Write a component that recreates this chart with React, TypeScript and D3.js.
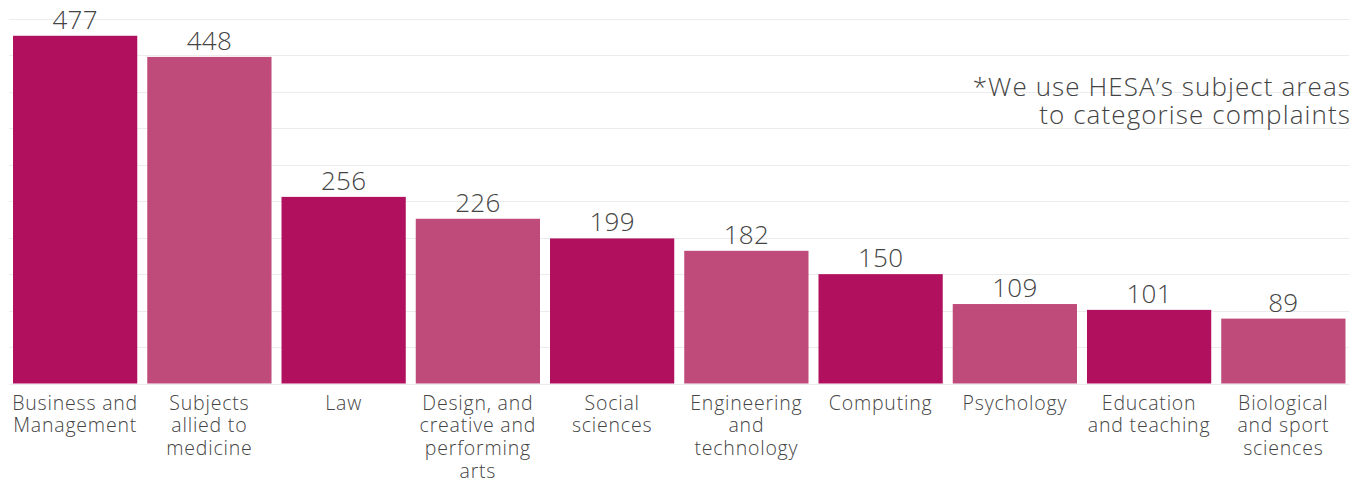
import React from "react";
import * as d3 from "d3";

const categories: string[][] = [
  ["Business and", "Management"],
  ["Subjects", "allied to", "medicine"],
  ["Law"],
  ["Design, and", "creative and", "performing", "arts"],
  ["Social", "sciences"],
  ["Engineering", "and", "technology"],
  ["Computing"],
  ["Psychology"],
  ["Education", "and teaching"],
  ["Biological", "and sport", "sciences"],
];
const values: number[] = [477, 448, 256, 226, 199, 182, 150, 109, 101, 89];
const gridTicks: number[] = [0, 50, 100, 150, 200, 250, 300, 350, 400, 450, 500];
const noteLines: string[] = ["*We use HESA\u2019s subject areas", "to categorise complaints"];

const W = 1368;
const H = 481;
const colors = ["#B0105E", "#BE4B7A"];
const FONT = "'Open Sans', sans-serif";

export default function App() {
  const x = d3
    .scaleBand<number>()
    .domain(d3.range(values.length))
    .range([5.5, 1353])
    .paddingInner(10 / 134.3)
    .paddingOuter(0.056);
  const y = d3.scaleLinear().domain([0, 500]).range([383.5, 19]);

  return (
    <svg
      width={W}
      height={H}
      style={{ position: "absolute", left: 0, top: 0, background: "#fff" }}
    >
      {gridTicks.map((t) => (
        <line
          key={t}
          x1={9}
          x2={1349}
          y1={Math.round(y(t)) + 0.5}
          y2={Math.round(y(t)) + 0.5}
          stroke="#ececec"
          strokeWidth={1}
        />
      ))}
      {values.map((v, i) => (
        <g key={i}>
          <rect
            x={x(i)}
            y={y(v)}
            width={x.bandwidth()}
            height={y(0) - y(v)}
            fill={colors[i % 2]}
          />
          <text
            x={(x(i) as number) + x.bandwidth() / 2}
            y={y(v) - 7}
            textAnchor="middle"
            fontFamily={FONT}
            fontWeight={300}
            fontSize={26}
            letterSpacing={0.3}
            fill="#444"
          >
            {v}
          </text>
          <text
            textAnchor="middle"
            fontFamily={FONT}
            fontWeight={300}
            fontSize={19.5}
            letterSpacing={0.8}
            fill="#444"
          >
            {categories[i].map((line, j) => (
              <tspan
                key={j}
                x={(x(i) as number) + x.bandwidth() / 2}
                y={409.5 + j * 22.7}
              >
                {line}
              </tspan>
            ))}
          </text>
        </g>
      ))}
      <text
        textAnchor="end"
        fontFamily={FONT}
        fontWeight={300}
        fontSize={26}
        letterSpacing={1.1}
        fill="#444"
      >
        {noteLines.map((l, j) => (
          <tspan key={j} x={1351} y={96 + j * 28}>
            {l}
          </tspan>
        ))}
      </text>
    </svg>
  );
}
